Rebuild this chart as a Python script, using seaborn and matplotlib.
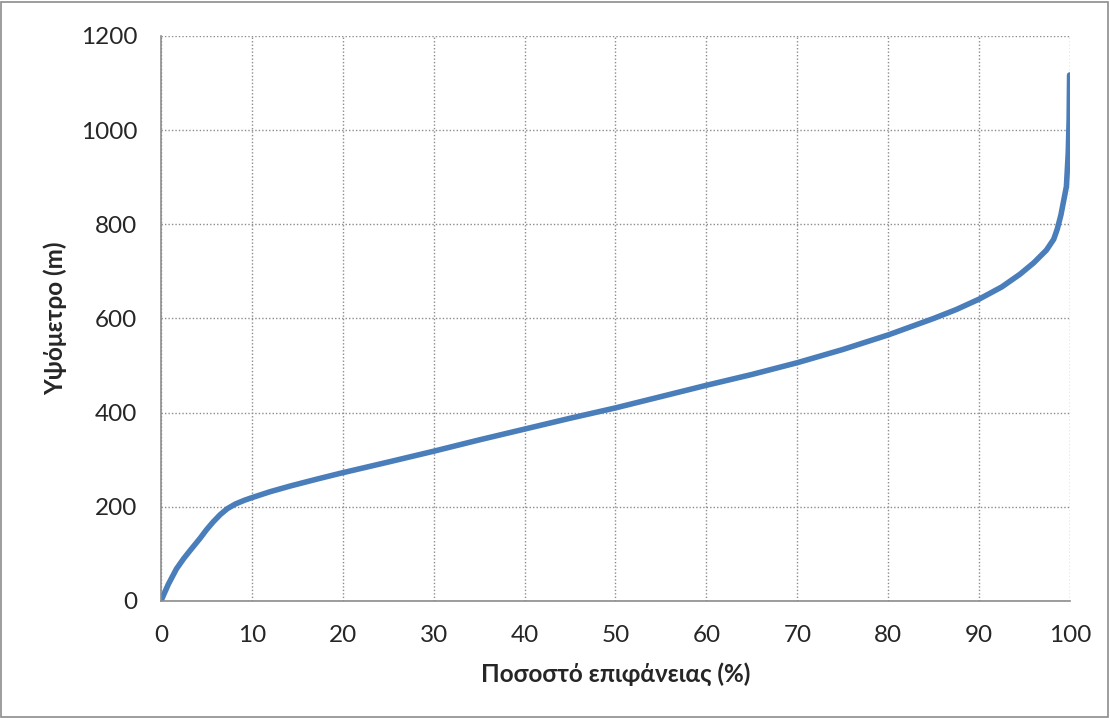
import matplotlib
matplotlib.use('Agg')
import matplotlib.pyplot as plt
import seaborn as sns
import pandas as pd

# hypsometric curve
area_pct = [0, 0.8, 1.7, 2.5, 3.2, 4.3, 5.0, 5.75, 6.5, 7.3, 8.2, 9.2, 10.1, 12, 14.2,
            17, 19.7, 25, 30, 35, 40, 45, 50, 55, 60, 65, 70, 75, 80, 85, 87.5,
            90, 92.5, 94.5, 96, 97.4, 98.2, 98.6, 99.0, 99.3, 99.6, 99.8, 99.9, 99.95]
elevation = [0, 35, 68, 90, 107, 133, 151, 168, 183, 196, 206, 214, 220, 232, 244,
             258, 271, 295, 318, 342, 365, 388, 410, 434, 458, 481, 506, 534, 565, 600, 619,
             641, 667, 694, 718, 745, 768, 790, 820, 850, 880, 951, 1022, 1117]

df = pd.DataFrame({'area': area_pct, 'elev': elevation})

sns.set_style('white')
plt.rcParams['font.family'] = ['Lato', 'DejaVu Sans']

fig = plt.figure(figsize=(11.1, 7.18), dpi=100)
ax = fig.add_axes([0.145, 0.163, 0.819, 0.787])

sns.lineplot(data=df, x='area', y='elev', ax=ax, color='#4a7ebb', linewidth=4,
             sort=False, estimator=None)

ax.set_xlim(0, 100)
ax.set_ylim(0, 1200)
ax.set_xticks(range(0, 101, 10))
ax.set_yticks(range(0, 1201, 200))
ax.grid(True, color='#8c8c8c', linestyle=(0, (1, 1.5)), linewidth=1.0)
for s in ['top', 'right']:
    ax.spines[s].set_visible(False)
for s in ['left', 'bottom']:
    ax.spines[s].set_color('#8c8c8c')
    ax.spines[s].set_linewidth(1.2)
ax.tick_params(axis='both', direction='out', length=6, width=1.2, color='#8c8c8c',
               labelsize=17.5, pad=11)
ax.set_xlabel('Ποσοστό επιφάνειας (%)', fontsize=17.5, fontweight='bold', labelpad=12)
ax.set_ylabel('Υψόμετρο (m)', fontsize=17.5, fontweight='bold', labelpad=10)

# outer frame of the chart area
fig.patches.append(plt.Rectangle((0.001, 0.002), 0.997, 0.995, transform=fig.transFigure,
                                 fill=False, edgecolor='#8c8c8c', linewidth=1.2))

fig.savefig('out.png', dpi=100)
